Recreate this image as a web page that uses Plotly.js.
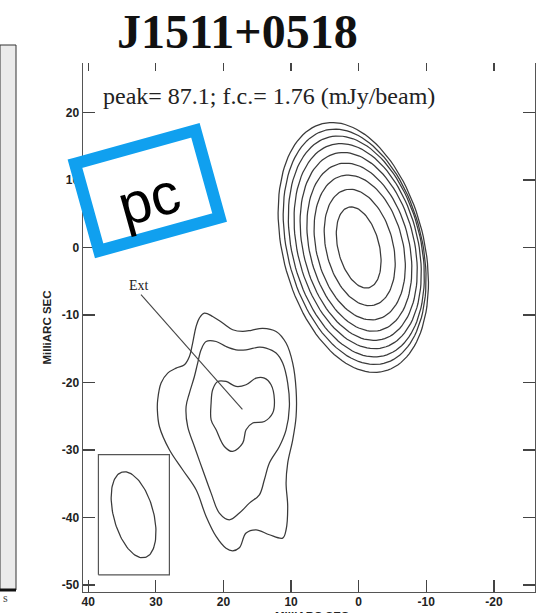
<!DOCTYPE html>
<html>
<head>
<meta charset="utf-8">
<script src="https://cdn.plot.ly/plotly-3.0.1.min.js"></script>
<style>
  html, body { margin: 0; padding: 0; background: #fff; }
  #map { width: 537px; height: 613px; }
</style>
</head>
<body>
<div id="map"></div>
<script>
// Relative sky offsets in milliarcseconds (x = RA offset, increasing to the east/left)
const xTicks = [40, 30, 20, 10, 0, -10, -20];
const yTicks = [20, 10, 0, -10, -20, -30, -40, -50];
const xTickText = ['40', '30', '20', '10', '0', '-10', '-20'];
const yTickText = ['20', '10', '0', '-10', '-20', '-30', '-40', '-50'];

// Core component: nested contour ellipses, outermost first (semi-axes in mas)
const coreMajor = [18.9, 17.8, 16.7, 15.5, 14.2, 12.7, 10.95, 8.8, 6.15];
const coreMinor = [10.45, 9.95, 9.5, 8.9, 8.2, 7.35, 6.4, 4.95, 3.05];
const coreCx = [0.8, 0.6, 0.35, 0.15, 0.0, -0.1, -0.15, -0.15, 0.0];
const coreCy = [0.0, 0.1, 0.15, 0.2, 0.15, 0.05, 0.0, 0.0, 0.0];
const corePA = 14;

// Extended component ("Ext") contours
const extOuterX = [23.57, 22.83, 21.6, 20.12, 18.64, 17.16, 15.87, 14.2, 12.22, 10.74, 9.76, 9.26, 9.26, 9.76, 10.5, 10.74, 10.5, 10.74, 11.24, 13.21, 15.18, 16.66, 17.65, 18.64, 19.62, 21.09, 22.57, 24.05, 26.04, 28.0, 29.48, 29.78, 29.73, 29.23, 28.25, 27.01, 25.78, 25.04, 24.56, 24.05, 23.57];
const extOuterY = [-10.46, -9.72, -10.22, -11.2, -12.19, -12.44, -12.27, -11.97, -12.44, -14.16, -17.13, -21.08, -25.04, -28.49, -31.94, -34.9, -38.37, -41.82, -43.05, -42.56, -41.82, -42.31, -44.49, -44.93, -44.56, -42.81, -39.85, -35.9, -32.93, -29.97, -26.52, -24.04, -22.56, -20.09, -18.61, -17.87, -17.38, -16.15, -14.16, -11.7, -10.46];

const extMidX = [23.31, 22.57, 21.09, 19.62, 18.14, 16.66, 14.69, 13.7, 12.22, 11.24, 10.5, 10.25, 10.74, 11.73, 13.21, 13.95, 14.69, 16.17, 17.65, 19.13, 20.61, 21.83, 23.08, 24.3, 25.3, 25.53, 25.04, 24.3, 23.82, 23.31];
const extMidY = [-15.16, -13.93, -13.93, -14.67, -15.16, -15.16, -14.76, -14.9, -15.64, -17.13, -20.09, -23.56, -27.01, -29.48, -31.94, -34.41, -36.64, -37.87, -39.35, -40.34, -39.35, -36.39, -32.93, -29.48, -26.52, -23.56, -21.57, -19.11, -17.13, -15.16];

const extInnerX = [20.86, 19.62, 18.14, 16.66, 15.18, 13.95, 12.96, 12.47, 12.72, 13.95, 15.68, 16.66, 17.16, 18.64, 19.87, 21.09, 21.83, 21.83, 21.6, 20.86];
const extInnerY = [-19.85, -19.85, -20.59, -20.34, -19.35, -19.35, -20.34, -22.56, -24.53, -25.78, -26.01, -27.01, -28.98, -30.22, -29.48, -27.01, -25.53, -23.05, -21.08, -19.85];

// Restoring beam and its frame
const beamCenter = [33.3, -39.6];
const beamMajor = 6.55;
const beamMinor = 2.95;
const beamPA = 15;
const beamBoxX = [38.5, 28.0];
const beamBoxY = [-48.5, -30.7];

// Pointer from the "Ext" label to the component
const extLineX = [32.2, 17.2];
const extLineY = [-7.0, -24.0];
const extLabelPos = [32.5, -5.7];

// ---------------------------------------------------------------------------
function ellipse(cx, cy, a, b, paDeg, n) {
  const th = paDeg * Math.PI / 180;
  const mx = Math.sin(th), my = Math.cos(th);   // major-axis direction (PA east of north)
  const nx = Math.cos(th), ny = -Math.sin(th);  // minor-axis direction
  const xs = [], ys = [];
  for (let i = 0; i <= n; i++) {
    const t = 2 * Math.PI * i / n;
    xs.push(cx + a * Math.cos(t) * mx + b * Math.sin(t) * nx);
    ys.push(cy + a * Math.cos(t) * my + b * Math.sin(t) * ny);
  }
  return { x: xs, y: ys };
}

const LINE = { color: '#3a3a3a', width: 1.25 };
const traces = [];

coreMajor.forEach((a, i) => {
  const e = ellipse(coreCx[i], coreCy[i], a, coreMinor[i], corePA, 120);
  traces.push({ type: 'scatter', mode: 'lines', x: e.x, y: e.y, line: LINE, hoverinfo: 'skip' });
});

[[extOuterX, extOuterY], [extMidX, extMidY], [extInnerX, extInnerY]].forEach(([xs, ys]) => {
  traces.push({ type: 'scatter', mode: 'lines', x: xs, y: ys,
    line: Object.assign({ shape: 'spline', smoothing: 1 }, LINE), hoverinfo: 'skip' });
});

const be = ellipse(beamCenter[0], beamCenter[1], beamMajor, beamMinor, beamPA, 120);
traces.push({ type: 'scatter', mode: 'lines', x: be.x, y: be.y, line: LINE, hoverinfo: 'skip' });
traces.push({ type: 'scatter', mode: 'lines',
  x: [beamBoxX[0], beamBoxX[1], beamBoxX[1], beamBoxX[0], beamBoxX[0]],
  y: [beamBoxY[0], beamBoxY[0], beamBoxY[1], beamBoxY[1], beamBoxY[0]],
  line: { color: '#555', width: 1.2 }, hoverinfo: 'skip' });

traces.push({ type: 'scatter', mode: 'lines', x: extLineX, y: extLineY,
  line: { color: '#444', width: 1.1 }, hoverinfo: 'skip' });

// carrier for the top tick row
traces.push({ type: 'scatter', mode: 'lines', x: [], y: [], xaxis: 'x2', yaxis: 'y', hoverinfo: 'skip' });

// ---------------------------------------------------------------------------
const W = 537, H = 613;
const M = { l: 83, r: 2, t: 63, b: 21 };
const PW = W - M.l - M.r, PH = H - M.t - M.b;
const toPaper = (px, py) => [(px - M.l) / PW, (H - M.b - py) / PH];

function rotatedRectPath(cx, cy, hw, hh, angDeg) {
  const a = angDeg * Math.PI / 180;
  const ux = Math.cos(a), uy = Math.sin(a), vx = -Math.sin(a), vy = Math.cos(a);
  const pts = [[-hw, -hh], [hw, -hh], [hw, hh], [-hw, hh]].map(([s, t]) =>
    toPaper(cx + s * ux + t * vx, cy + s * uy + t * vy));
  return 'M' + pts.map(p => p[0].toFixed(5) + ',' + p[1].toFixed(5)).join(' L') + ' Z';
}

const xRange = [40.78, -26.08];
const yRange = [-51.04, 27.33];
const tickFont = { family: 'Liberation Sans, Arial, sans-serif', size: 12, color: '#222', weight: 'bold' };
const axisTitleFont = { family: 'Liberation Sans, Arial, sans-serif', size: 11.5, color: '#222', weight: 'bold' };

const stripA = toPaper(0, 590), stripB = toPaper(16, 45);
const peakPos = toPaper(101, 96);
const pcPos = toPaper(148.5, 198);
const sPos = toPaper(5, 598);
const xTitlePos = toPaper(312, 608);

const layout = {
  width: W, height: H,
  margin: Object.assign({ pad: 0 }, M),
  paper_bgcolor: '#fff', plot_bgcolor: '#fff',
  showlegend: false,
  title: {
    text: '<b>J1511+0518</b>',
    font: { family: 'Liberation Serif, serif', size: 48, color: '#111' },
    xref: 'container', yref: 'container',
    x: 0.442, xanchor: 'center', y: 0.949, yanchor: 'middle'
  },
  xaxis: {
    range: xRange, tickmode: 'array', tickvals: xTicks, ticktext: xTickText,
    ticks: 'inside', ticklen: 12, tickwidth: 1.2, tickcolor: '#444',
    showline: true, linecolor: '#555', linewidth: 1.4, ticklabelstandoff: -2,
    showgrid: false, zeroline: false, tickfont: tickFont
  },
  xaxis2: {
    overlaying: 'x', side: 'top', anchor: 'y', range: xRange,
    tickmode: 'array', tickvals: xTicks, ticks: 'inside', ticklen: 8, tickwidth: 1.2, tickcolor: '#444',
    showticklabels: false, showline: false, showgrid: false, zeroline: false
  },
  yaxis: {
    range: yRange, tickmode: 'array', tickvals: yTicks, ticktext: yTickText,
    ticks: 'inside', ticklen: 12, tickwidth: 1.2, tickcolor: '#444',
    showline: true, mirror: 'ticks', linecolor: '#555', linewidth: 1.4,
    showgrid: false, zeroline: false, tickfont: tickFont,
    title: { text: 'MilliARC SEC', font: axisTitleFont, standoff: 8 }
  },
  shapes: [
    // sliver of the neighbouring panel
    { type: 'rect', xref: 'paper', yref: 'paper', x0: stripA[0], x1: stripB[0], y0: stripA[1], y1: stripB[1],
      fillcolor: '#ebebeb', line: { color: '#333', width: 1 }, layer: 'below' },
    { type: 'line', xref: 'paper', yref: 'paper', x0: stripA[0], x1: stripB[0], y0: stripA[1], y1: stripA[1],
      line: { color: '#111', width: 3 } },
    // scale badge
    { type: 'path', xref: 'paper', yref: 'paper', path: rotatedRectPath(147.3, 190.6, 62.5, 45.2, -15.5),
      fillcolor: '#fff', line: { color: '#10a0ef', width: 12 }, layer: 'above' }
  ],
  annotations: [
    { xref: 'paper', yref: 'paper', x: peakPos[0], y: peakPos[1], xanchor: 'left', yanchor: 'middle',
      text: 'peak= 87.1; f.c.= 1.76 (mJy/beam)', showarrow: false,
      font: { family: 'Liberation Serif, serif', size: 24, color: '#222' } },
    { xref: 'x', yref: 'y', x: extLabelPos[0], y: extLabelPos[1], xanchor: 'center', yanchor: 'middle',
      text: 'Ext', showarrow: false, font: { family: 'Liberation Serif, serif', size: 14, color: '#222' } },
    { xref: 'paper', yref: 'paper', x: pcPos[0], y: pcPos[1], xanchor: 'center', yanchor: 'middle',
      text: 'pc', textangle: -15.5, showarrow: false,
      font: { family: 'Liberation Sans, Arial, sans-serif', size: 58, color: '#000' } },
    { xref: 'paper', yref: 'paper', x: sPos[0], y: sPos[1], xanchor: 'center', yanchor: 'middle',
      text: 's', showarrow: false, font: { family: 'Liberation Serif, serif', size: 12, color: '#444' } },
    // x-axis title, sitting below the tick labels
    { xref: 'paper', yref: 'paper', x: xTitlePos[0], y: xTitlePos[1], xanchor: 'center', yanchor: 'top',
      text: 'MilliARC SEC', showarrow: false, font: axisTitleFont }
  ]
};

Plotly.newPlot('map', traces, layout, { staticPlot: true, displayModeBar: false });
</script>
</body>
</html>
